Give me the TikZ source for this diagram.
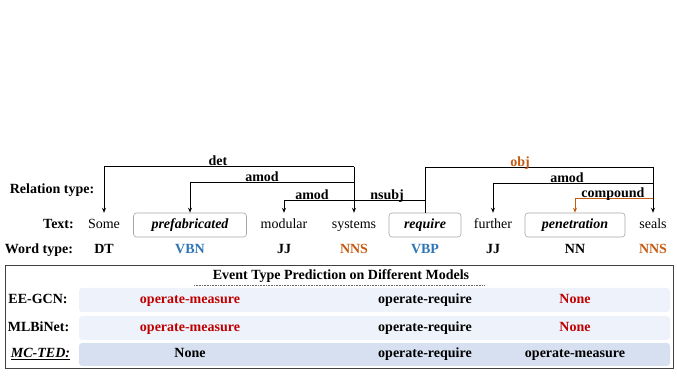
\documentclass[tikz,border=0pt]{standalone}
\usepackage{fontspec}
\setmainfont{Liberation Serif}
\usetikzlibrary{
  positioning,
  arrows.meta,
  calc
}
\definecolor{TagBlue}{RGB}{46,117,182}
\definecolor{TagOrange}{RGB}{197,90,17}
\definecolor{PredRed}{RGB}{192,0,0}
\definecolor{RowLight}{RGB}{238,243,251}
\definecolor{RowDark}{RGB}{214,224,240}

\begin{document}
\begin{tikzpicture}[
  x=1pt, y=1pt,
  font=\fontsize{14}{16}\selectfont,
  >={Stealth[length=5pt,width=4pt]},
  word/.style={minimum height=24pt, inner sep=2pt, text height=9.5pt, text depth=3pt},
  wbox/.style={
    word,
    draw=black!35,
    line width=0.6pt,
    rounded corners=3pt,
    font=\fontsize{14}{16}\selectfont\bfseries\itshape,
  },
  tag/.style={
    font=\fontsize{14}{16}\selectfont\bfseries,
    text height=9.5pt,
    text depth=3pt,
  },
  arr/.style={->, line width=0.9pt},
  rel/.style={
    font=\fontsize{14}{16}\selectfont\bfseries,
    anchor=south,
    inner sep=1pt,
    text depth=0.5pt,
  },
  rowbg/.style={
    rounded corners=3pt,
    minimum width=591pt,
    inner sep=0pt,
  },
]
  \useasboundingbox (0,0) rectangle (677,379);

  % sentence
  \node[word] (some) at (104,154) {Some};
  \node[wbox, minimum width=113pt] (prefab) at (190,154) {prefabricated};
  \node[word] (modular) at (284,154) {modular};
  \node[word] (systems) at (354,154) {systems};
  \node[wbox, minimum width=72pt] (require) at (425,154) {require};
  \node[word] (further) at (493,154) {further};
  \node[wbox, minimum width=100pt] (penet) at (575,154) {penetration};
  \node[word] (seals) at (653,154) {seals};

  % word types
  \node[tag] (tsome) at (some |- 0,129) {DT};
  \node[tag, text=TagBlue] (tprefab) at (prefab |- 0,129) {VBN};
  \node[tag] (tmodular) at (modular |- 0,129) {JJ};
  \node[tag, text=TagOrange] (tsystems) at (systems |- 0,129) {NNS};
  \node[tag, text=TagBlue] (trequire) at (require |- 0,129) {VBP};
  \node[tag] (tfurther) at (further |- 0,129) {JJ};
  \node[tag] (tpenet) at (penet |- 0,129) {NN};
  \node[tag, text=TagOrange] (tseals) at (seals |- 0,129) {NNS};

  \node[tag] (lrel) at (52,189) {Relation type:};
  \node[tag] (ltext) at (58.5,154) {Text:};
  \node[tag] (ltype) at (39,129) {Word type:};

  % dependency arcs
  \draw[arr] ([yshift=46pt]systems.north) -- (systems.north);
  \draw[arr] ([yshift=46pt]systems.north) -| (some.north);
  \draw[arr] ([yshift=30pt]systems.north) -| (prefab.north);
  \draw[arr] ([yshift=12pt]systems.north) -| (modular.north);
  \draw[line width=0.9pt] ([yshift=12pt]systems.north) -| (require.north);
  \draw[line width=0.9pt] ([yshift=45pt]require.north) -- (require.north);
  \draw[arr] ([yshift=45pt]require.north) -| (seals.north);
  \draw[arr] ([yshift=29pt]seals.north) -| (further.north);
  \draw[arr, TagOrange] ([yshift=14pt]seals.north) -| (penet.north);

  \node[rel] (rdet) at (218,212) {det};
  \node[rel] (ramod) at (262,196) {amod};
  \node[rel] (ramodb) at (312,178) {amod};
  \node[rel] (rnsubj) at (387,178) {nsubj};
  \node[rel, text=TagOrange] (robj) at (520,211) {obj};
  \node[rel] (ramodc) at (567,195) {amod};
  \node[rel] (rcomp) at (613,180) {compound};

  % prediction table
  \node[draw=black!75, line width=1pt, minimum width=668pt, minimum height=103pt,
    inner sep=0pt] (frame) at (339,61.5) {};
  \node[tag] (title) at (341,103) {Event Type Prediction on Different Models};
  \draw[densely dotted, black!60, line width=0.6pt]
    ($(title.south)+(-147,0)$) -- ($(title.south)+(144,0)$);

  \node[rowbg, fill=RowLight, minimum height=24pt] (row1) at (374.5,79) {};
  \node[rowbg, fill=RowLight, minimum height=24pt] (row2) at (374.5,51) {};
  \node[rowbg, fill=RowDark, minimum height=23pt] (row3) at (374.5,24.5) {};

  \node[tag] (m1) at (38,79) {EE-GCN:};
  \node[tag] (m2) at (38.5,51) {MLBiNet:};
  \node[tag] (m3) at (40.5,24.5) {\textit{\underline{MC-TED:}}};

  \node[tag, text=PredRed] (p11) at (prefab |- row1) {operate-measure};
  \node[tag] (p12) at (require |- row1) {operate-require};
  \node[tag, text=PredRed] (p13) at (penet |- row1) {None};
  \node[tag, text=PredRed] (p21) at (prefab |- row2) {operate-measure};
  \node[tag] (p22) at (require |- row2) {operate-require};
  \node[tag, text=PredRed] (p23) at (penet |- row2) {None};
  \node[tag] (p31) at (prefab |- row3) {None};
  \node[tag] (p32) at (require |- row3) {operate-require};
  \node[tag] (p33) at (penet |- row3) {operate-measure};
\end{tikzpicture}
\end{document}
